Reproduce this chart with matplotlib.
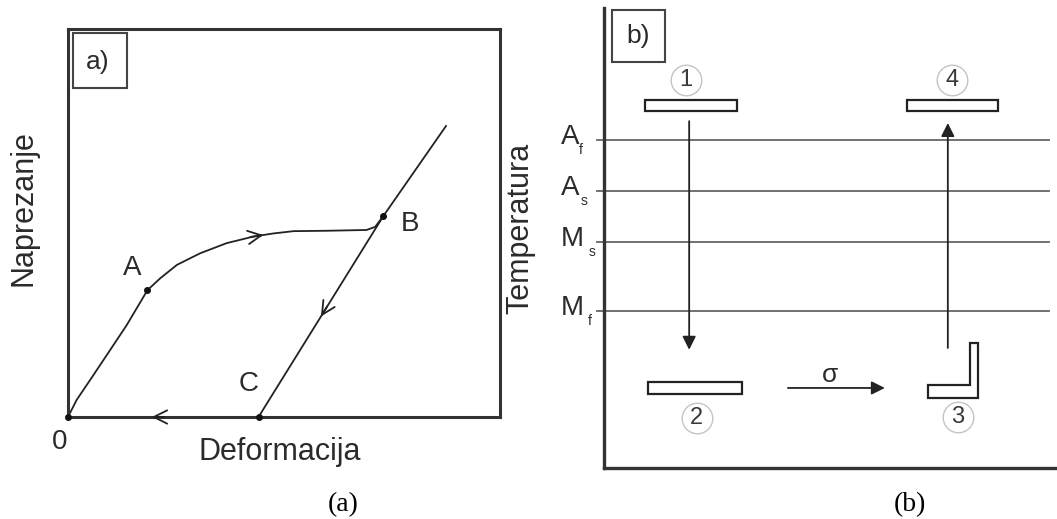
import matplotlib.pyplot as plt
from matplotlib.patches import Rectangle, Polygon
import numpy as np

plt.rcParams['font.family'] = ['Liberation Sans', 'DejaVu Sans']

# ---- panel a: stress vs deformation (normalised units) ----
load_x = [0.0, 0.020, 0.051, 0.090, 0.136, 0.184, 0.213, 0.252, 0.306, 0.367,
          0.429, 0.475, 0.522, 0.599, 0.691, 0.711, 0.730]
load_y = [0.0, 0.044, 0.095, 0.160, 0.237, 0.327, 0.357, 0.392, 0.422, 0.448,
          0.465, 0.473, 0.479, 0.480, 0.482, 0.490, 0.518]
unload_x = [0.875, 0.730, 0.441]
unload_y = [0.750, 0.518, 0.0]
rest_x = [0.441, 0.0]
rest_y = [0.0, 0.0]
point_names = ['0', 'A', 'B', 'C']
point_x = [0.0, 0.184, 0.730, 0.441]
point_y = [0.0, 0.327, 0.518, 0.0]
name_offsets = [(-6, -18), (-11, 16), (19, -6), (-7, 24)]

# ---- panel b: temperature levels and specimen states (0..100 units) ----
level_main = ['A', 'A', 'M', 'M']
level_sub = ['f', 's', 's', 'f']
level_t = [71.3, 60.2, 49.1, 34.1]
sub_x = [-5.5, -5.2, -3.4, -3.6]

bar_left = [9.1, 66.9, 9.7]
bar_right = [29.4, 87.0, 30.5]
bar_bottom = [77.6, 77.6, 16.1]
bar_top = [80.0, 80.0, 18.7]
bent_x = [71.5, 80.8, 80.8, 82.6, 82.6, 71.5]
bent_y = [18.0, 18.0, 27.2, 27.2, 15.2, 15.2]

step_labels = ['1', '2', '3', '4']
step_x = [18.1, 20.5, 78.1, 76.8]
step_y = [84.3, 10.9, 11.1, 84.3]

cool_x, cool_from, cool_to = 18.8, 75.4, 25.7
heat_x, heat_from, heat_to = 75.9, 26.1, 75.0
stress_y, stress_from, stress_to = 17.4, 40.6, 62.0

ink = '#2b2b2b'
line_c = '#222222'

fig = plt.figure(figsize=(10.57, 5.19), dpi=100)

# panel a
ax_a = fig.add_axes([68 / 1057, 102 / 519, 432 / 1057, 388 / 519])
ax_a.set_xlim(0, 1)
ax_a.set_ylim(0, 1)
ax_a.set_xticks([])
ax_a.set_yticks([])
for s in ax_a.spines.values():
    s.set_linewidth(2.2)
    s.set_color('#333333')

ax_a.plot(load_x, load_y, color=line_c, lw=1.3, clip_on=False, solid_joinstyle='round')
ax_a.plot(unload_x, unload_y, color=line_c, lw=1.3, clip_on=False)
ax_a.plot(rest_x, rest_y, color=line_c, lw=1.3, clip_on=False)
ax_a.plot(point_x, point_y, 'o', color='#111111', ms=4, clip_on=False, zorder=5)
for n, x, y, off in zip(point_names, point_x, point_y, name_offsets):
    ax_a.annotate(n, (x, y), xytext=off, textcoords='offset points',
                  ha='center', va='center', fontsize=20, color=ink)


def path_arrow(ax, p0, p1, frac):
    # open arrowhead placed on segment p0->p1, pointing towards p1
    p0 = np.array(p0)
    p1 = np.array(p1)
    tip = p0 + frac * (p1 - p0)
    d = (p1 - p0) / np.hypot(*(p1 - p0))
    ax.annotate('', xy=tip, xytext=tip - 0.03 * d,
                arrowprops=dict(arrowstyle='->', color=line_c, lw=1.3,
                                mutation_scale=24, shrinkA=0, shrinkB=0))


path_arrow(ax_a, (load_x[10], load_y[10]), (load_x[11], load_y[11]), 0.5)
path_arrow(ax_a, (unload_x[1], unload_y[1]), (unload_x[2], unload_y[2]), 0.5)
path_arrow(ax_a, (rest_x[0], rest_y[0]), (rest_x[1], rest_y[1]), 0.56)

ax_a.add_patch(Rectangle((0.012, 0.848), 0.125, 0.142, fill=False, ec='#444444',
                         lw=1.5, transform=ax_a.transAxes))
ax_a.text(0.069, 0.915, 'a)', transform=ax_a.transAxes, ha='center', va='center',
          fontsize=19, color=ink)
ax_a.text(0.491, -0.09, 'Deformacija', transform=ax_a.transAxes, ha='center',
          va='center', fontsize=22, color=ink)
ax_a.text(-0.104, 0.539, 'Naprezanje', transform=ax_a.transAxes, ha='center',
          va='center', rotation=90, fontsize=22, color=ink)

# panel b
ax_b = fig.add_axes([604 / 1057, 51 / 519, 453 / 1057, 460 / 519])
ax_b.set_xlim(0, 100)
ax_b.set_ylim(0, 100)
ax_b.set_xticks([])
ax_b.set_yticks([])
ax_b.spines['top'].set_visible(False)
ax_b.spines['right'].set_visible(False)
for k in ['left', 'bottom']:
    ax_b.spines[k].set_linewidth(2.4)
    ax_b.spines[k].set_color('#333333')

for m, sub, t, sx in zip(level_main, level_sub, level_t, sub_x):
    ax_b.plot([-1.5, 98.2], [t, t], color='#666666', lw=1.3, clip_on=False)
    ax_b.text(-9.5, t + 0.6, m, ha='left', va='center', fontsize=20, color=ink)
    ax_b.text(sx, t - 2.2, sub, ha='left', va='center', fontsize=10, color=ink)

for l, r, b, t in zip(bar_left, bar_right, bar_bottom, bar_top):
    ax_b.add_patch(Rectangle((l, b), r - l, t - b, fc='white', ec=line_c, lw=1.6))
ax_b.add_patch(Polygon(np.column_stack([bent_x, bent_y]), closed=True,
                       fc='white', ec=line_c, lw=1.6))

ax_b.plot(step_x, step_y, 'o', ms=22, mfc='none', mec='#c4c4c4', mew=1)
for lab, x, y in zip(step_labels, step_x, step_y):
    ax_b.text(x, y, lab, ha='center', va='center', fontsize=17, color='#3a3a3a')

arrow_kw = dict(arrowstyle='-|>', color=line_c, lw=1.3, mutation_scale=20,
                shrinkA=0, shrinkB=0)
ax_b.annotate('', xy=(cool_x, cool_to), xytext=(cool_x, cool_from), arrowprops=arrow_kw)
ax_b.annotate('', xy=(heat_x, heat_to), xytext=(heat_x, heat_from), arrowprops=arrow_kw)
ax_b.annotate('', xy=(stress_to, stress_y), xytext=(stress_from, stress_y), arrowprops=arrow_kw)
ax_b.text((stress_from + stress_to) / 2 - 1.4, stress_y + 2.8, 'σ', ha='center',
          va='center', fontsize=19, color=ink)

ax_b.add_patch(Rectangle((1.8, 88.3), 11.7, 11.3, fill=False, ec='#444444', lw=1.5))
ax_b.text(7.5, 93.9, 'b)', ha='center', va='center', fontsize=19, color=ink)
ax_b.text(-18.5, 52.0, 'Temperatura', ha='center', va='center', rotation=90,
          fontsize=22, color=ink)

fig.text(343 / 1057, 0.027, '(a)', ha='center', va='center', fontsize=20,
         family='Liberation Serif', color='black')
fig.text(910 / 1057, 0.027, '(b)', ha='center', va='center', fontsize=20,
         family='Liberation Serif', color='black')

fig.savefig('out.png', dpi=100)
